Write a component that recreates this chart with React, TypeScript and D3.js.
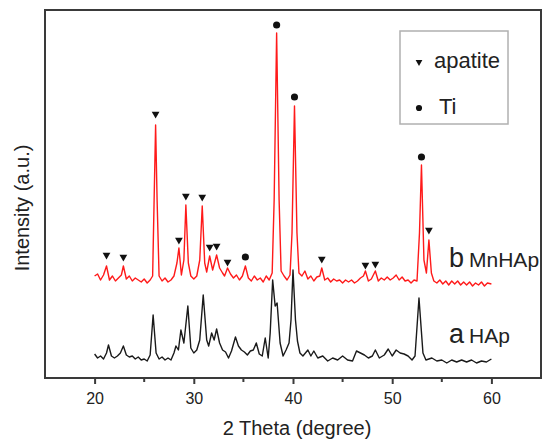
import React, { useEffect, useRef } from 'react';
import * as d3 from 'd3';

// 2 theta (degree), intensity (a.u.)
const mnhapPattern: [number, number][] = [
  [20.0, 102], [20.3, 104], [20.6, 98], [20.9, 103], [21.2, 112], [21.5, 98], [21.8, 102], [22.1, 97],
  [22.4, 100], [22.7, 103], [22.9, 112], [23.2, 99], [23.5, 102], [23.8, 97], [24.1, 100], [24.4, 98],
  [24.7, 96], [25.0, 99], [25.3, 95], [25.6, 98], [25.85, 102], [26.0, 178], [26.15, 253], [26.3, 178],
  [26.5, 102], [26.8, 97], [27.1, 100], [27.4, 96], [27.7, 98], [28.0, 102], [28.3, 115], [28.5, 130],
  [28.75, 103], [29.0, 118], [29.2, 173], [29.45, 115], [29.7, 102], [30.0, 99], [30.3, 102], [30.6, 118],
  [30.85, 172], [31.1, 115], [31.3, 106], [31.6, 122], [31.9, 108], [32.3, 123], [32.6, 110], [32.9, 105],
  [33.1, 102], [33.4, 110], [33.7, 104], [34.0, 100], [34.3, 103], [34.6, 98], [34.9, 102], [35.2, 112],
  [35.5, 100], [35.8, 97], [36.1, 102], [36.4, 98], [36.7, 100], [37.0, 96], [37.3, 102], [37.6, 98],
  [37.9, 105], [38.1, 178], [38.35, 345], [38.6, 178], [38.8, 107], [39.1, 102], [39.4, 98], [39.7, 103],
  [39.9, 145], [40.15, 272], [40.4, 145], [40.6, 105], [40.9, 102], [41.2, 107], [41.5, 99], [41.8, 102],
  [42.1, 97], [42.4, 101], [42.7, 102], [42.9, 110], [43.2, 98], [43.5, 100], [43.8, 96], [44.1, 99],
  [44.4, 97], [44.7, 98], [45.0, 95], [45.3, 98], [45.6, 96], [45.9, 98], [46.2, 95], [46.5, 97],
  [46.8, 100], [47.1, 102], [47.3, 107], [47.6, 97], [47.9, 99], [48.3, 107], [48.6, 97], [48.9, 100],
  [49.2, 98], [49.5, 101], [49.8, 98], [50.1, 100], [50.4, 103], [50.7, 98], [51.0, 101], [51.3, 97],
  [51.6, 98], [51.9, 95], [52.2, 98], [52.5, 97], [52.75, 145], [52.95, 213], [53.2, 118], [53.45, 105],
  [53.7, 138], [53.95, 105], [54.2, 97], [54.5, 95], [54.8, 98], [55.1, 94], [55.4, 97], [55.7, 93],
  [56.0, 97], [56.3, 94], [56.6, 97], [56.9, 93], [57.2, 96], [57.5, 93], [57.8, 96], [58.1, 92],
  [58.4, 95], [58.7, 93], [59.0, 96], [59.3, 92], [59.6, 95], [60.0, 94],
];

const hapPattern: [number, number][] = [
  [20.0, 24], [20.3, 20], [20.6, 22], [20.9, 19], [21.2, 25], [21.4, 33], [21.7, 22], [22.0, 20],
  [22.3, 22], [22.6, 25], [22.9, 32], [23.2, 23], [23.5, 21], [23.8, 22], [24.1, 19], [24.4, 21],
  [24.7, 18], [25.0, 19], [25.3, 17], [25.6, 23], [25.9, 63], [26.2, 25], [26.5, 19], [26.8, 21],
  [27.1, 18], [27.4, 20], [27.7, 18], [28.0, 25], [28.2, 32], [28.45, 28], [28.7, 48], [29.0, 35],
  [29.4, 72], [29.7, 30], [30.0, 25], [30.3, 28], [30.6, 38], [30.95, 83], [31.3, 38], [31.5, 32],
  [31.8, 45], [32.05, 38], [32.3, 49], [32.6, 35], [32.9, 28], [33.2, 26], [33.5, 20], [33.8, 27],
  [34.2, 41], [34.5, 32], [34.8, 28], [35.1, 26], [35.4, 23], [35.7, 27], [36.0, 28], [36.3, 35],
  [36.6, 24], [36.9, 22], [37.2, 40], [37.5, 20], [37.7, 45], [37.95, 98], [38.2, 72], [38.4, 75],
  [38.7, 35], [39.0, 22], [39.3, 28], [39.6, 35], [39.8, 58], [40.0, 108], [40.25, 58], [40.45, 37],
  [40.7, 25], [41.0, 22], [41.5, 28], [41.8, 22], [42.1, 27], [42.5, 20], [43.0, 22], [43.5, 17],
  [44.0, 20], [44.5, 18], [45.0, 22], [45.5, 18], [46.0, 17], [46.4, 27], [46.8, 25], [47.2, 23],
  [47.6, 20], [48.0, 22], [48.3, 28], [48.7, 20], [49.2, 23], [49.6, 29], [50.0, 22], [50.4, 28],
  [50.8, 25], [51.2, 24], [51.6, 22], [52.0, 18], [52.3, 22], [52.7, 80], [53.1, 25], [53.4, 18],
  [54.0, 20], [54.5, 17], [55.0, 18], [55.5, 15], [56.0, 18], [56.5, 16], [57.0, 18], [57.5, 16],
  [58.0, 18], [58.5, 15], [59.0, 17], [59.5, 16], [60.0, 19],
];

// peak markers above the MnHAp pattern
const apatitePeaks: [number, number][] = [
  [21.2, 123], [22.9, 121], [26.15, 264], [28.5, 138], [29.2, 182], [30.85, 181], [31.6, 131],
  [32.3, 132], [33.4, 116], [42.9, 119], [47.3, 113], [48.3, 114], [53.7, 148],
];
const tiPeaks: [number, number][] = [
  [35.2, 121], [38.35, 353], [40.15, 281], [52.95, 221],
];

const majorTicks = [20, 30, 40, 50, 60];
const minorTicks = [25, 35, 45, 55];

const font = '"Liberation Sans", Arial, sans-serif';

const App = () => {
  const svgRef = useRef<SVGSVGElement>(null);

  useEffect(() => {
    const svg = d3.select(svgRef.current);
    svg.selectAll('*').remove();

    const left = 45;
    const right = 541;
    const top = 10;
    const bottom = 378;

    const x = d3.scaleLinear().domain([15, 65]).range([left, right]);
    const y = d3.scaleLinear().domain([0, 368]).range([bottom, top]);

    const line = d3
      .line<[number, number]>()
      .x((d) => x(d[0]))
      .y((d) => y(d[1]));

    // patterns
    svg.append('path')
      .datum(hapPattern)
      .attr('fill', 'none')
      .attr('stroke', '#1a1a1a')
      .attr('stroke-width', 1.4)
      .attr('stroke-linejoin', 'round')
      .attr('d', line);

    svg.append('path')
      .datum(mnhapPattern)
      .attr('fill', 'none')
      .attr('stroke', '#ff1a1a')
      .attr('stroke-width', 1.4)
      .attr('stroke-linejoin', 'round')
      .attr('d', line);

    // markers
    const tri = d3.symbol().type(d3.symbolTriangle).size(26);
    const dot = d3.symbol().type(d3.symbolCircle).size(40);

    svg.append('g')
      .selectAll('path')
      .data(apatitePeaks)
      .join('path')
      .attr('d', tri)
      .attr('fill', '#111')
      .attr('transform', (d) => `translate(${x(d[0])},${y(d[1])}) rotate(180)`);

    svg.append('g')
      .selectAll('path')
      .data(tiPeaks)
      .join('path')
      .attr('d', dot)
      .attr('fill', '#111')
      .attr('transform', (d) => `translate(${x(d[0])},${y(d[1])})`);

    // frame
    svg.append('rect')
      .attr('x', left)
      .attr('y', top)
      .attr('width', right - left)
      .attr('height', bottom - top)
      .attr('fill', 'none')
      .attr('stroke', '#3a3a3a')
      .attr('stroke-width', 2);

    // x axis
    const xAxis = svg.append('g')
      .attr('transform', `translate(0,${bottom})`)
      .call(d3.axisBottom(x).tickValues(majorTicks).tickSize(6).tickPadding(9).tickFormat(d3.format('d')));
    xAxis.select('.domain').remove();
    xAxis.selectAll('line').attr('stroke', '#3a3a3a').attr('stroke-width', 2);
    xAxis.selectAll('text')
      .attr('font-family', font)
      .attr('font-size', 16)
      .attr('fill', '#222');

    svg.append('g')
      .selectAll('line')
      .data(minorTicks)
      .join('line')
      .attr('x1', (d) => x(d))
      .attr('x2', (d) => x(d))
      .attr('y1', bottom)
      .attr('y2', bottom + 4)
      .attr('stroke', '#3a3a3a')
      .attr('stroke-width', 2);

    // axis titles
    svg.append('text')
      .attr('x', 297)
      .attr('y', 435)
      .attr('text-anchor', 'middle')
      .attr('font-family', font)
      .attr('font-size', 20)
      .attr('fill', '#222')
      .text('2 Theta (degree)');

    svg.append('text')
      .attr('transform', 'translate(29,208) rotate(-90)')
      .attr('text-anchor', 'middle')
      .attr('font-family', font)
      .attr('font-size', 20)
      .attr('fill', '#222')
      .text('Intensity (a.u.)');

    // curve labels
    const label = (letter: string, name: string, yPos: number) => {
      const t = svg.append('text')
        .attr('x', 449)
        .attr('y', yPos)
        .attr('font-family', font)
        .attr('fill', '#222');
      t.append('tspan').attr('font-size', 27).text(letter);
      t.append('tspan').attr('font-size', 21).attr('dx', 5).text(name);
    };
    label('b', 'MnHAp', 267);
    label('a', 'HAp', 343);

    // legend
    const legend = svg.append('g');
    legend.append('rect')
      .attr('x', 400)
      .attr('y', 31)
      .attr('width', 108)
      .attr('height', 93)
      .attr('fill', '#fff')
      .attr('stroke', '#b0b0b0')
      .attr('stroke-width', 1.5);
    legend.append('path')
      .attr('d', d3.symbol().type(d3.symbolTriangle).size(20)())
      .attr('fill', '#111')
      .attr('transform', 'translate(419,62) rotate(180)');
    legend.append('text')
      .attr('x', 434)
      .attr('y', 68)
      .attr('font-family', font)
      .attr('font-size', 22)
      .attr('fill', '#222')
      .text('apatite');
    legend.append('path')
      .attr('d', d3.symbol().type(d3.symbolCircle).size(30)())
      .attr('fill', '#111')
      .attr('transform', 'translate(419,108)');
    legend.append('text')
      .attr('x', 439)
      .attr('y', 114)
      .attr('font-family', font)
      .attr('font-size', 22)
      .attr('fill', '#222')
      .text('Ti');
  }, []);

  return (
    <svg
      ref={svgRef}
      width={542}
      height={439}
      style={{ position: 'absolute', left: 0, top: 0, background: '#fff' }}
    />
  );
};

export default App;
